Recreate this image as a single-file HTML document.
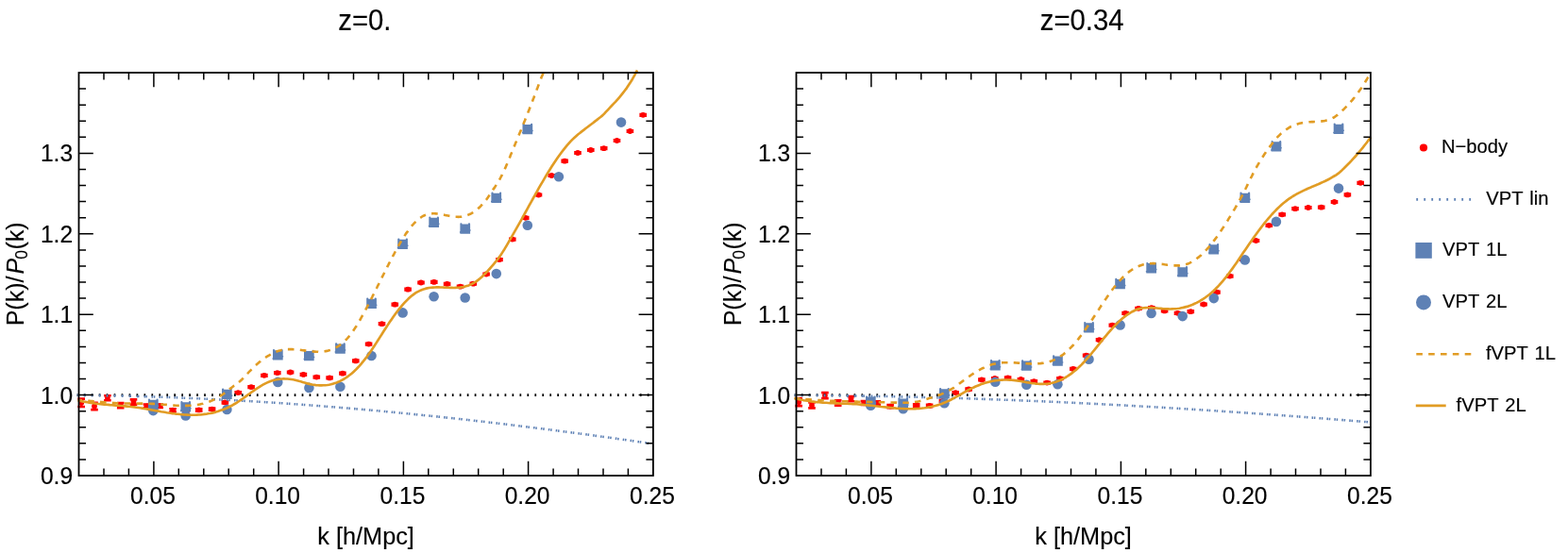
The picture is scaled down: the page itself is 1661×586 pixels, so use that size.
<!DOCTYPE html>
<html lang="en">
<head>
<meta charset="utf-8">
<title>P(k)/P0(k) comparison</title>
<style>
html,body{margin:0;padding:0;background:#fff;}
body{width:1661px;height:586px;overflow:hidden;}
svg{display:block;}
svg text{font-family:'Liberation Sans', sans-serif;fill:#000;stroke:#000;stroke-width:0.15px;}
</style>
</head>
<body>
<svg width="1661" height="586" viewBox="0 0 1661 586">
<rect width="1661" height="586" fill="#fff"/>
<g id="plot-z0">
<g fill="#FF0000" stroke="#FF0000">
<path d="M86.2 422.6 V431 M82.4 422.6 h7.6 M82.4 431 h7.6" stroke-width="2.6" fill="none"/>
<circle cx="86.2" cy="426.8" r="2.9" stroke="none"/>
<path d="M100 426.7 V434.1 M96.2 426.7 h7.6 M96.2 434.1 h7.6" stroke-width="2.6" fill="none"/>
<circle cx="100" cy="430.4" r="2.9" stroke="none"/>
<path d="M113.9 419.2 V424.2 M110.1 419.2 h7.6 M110.1 424.2 h7.6" stroke-width="2.6" fill="none"/>
<circle cx="113.9" cy="421.7" r="2.9" stroke="none"/>
<path d="M127.7 427.1 V432.3 M123.9 427.1 h7.6 M123.9 432.3 h7.6" stroke-width="2.6" fill="none"/>
<circle cx="127.7" cy="429.7" r="2.9" stroke="none"/>
<path d="M141.5 423.4 V428.6 M137.7 423.4 h7.6 M137.7 428.6 h7.6" stroke-width="2.6" fill="none"/>
<circle cx="141.5" cy="426" r="2.9" stroke="none"/>
<path d="M155.4 428.5 V432.3 M151.6 428.5 h7.6 M151.6 432.3 h7.6" stroke-width="2.6" fill="none"/>
<circle cx="155.4" cy="430.4" r="2.9" stroke="none"/>
<path d="M169.2 428.5 V431.9 M165.4 428.5 h7.6 M165.4 431.9 h7.6" stroke-width="2.6" fill="none"/>
<circle cx="169.2" cy="430.2" r="2.9" stroke="none"/>
<path d="M183.1 433.2 V436.2 M179.3 433.2 h7.6 M179.3 436.2 h7.6" stroke-width="2.6" fill="none"/>
<circle cx="183.1" cy="434.7" r="2.9" stroke="none"/>
<path d="M196.9 433.3 V435.9 M193.1 433.3 h7.6 M193.1 435.9 h7.6" stroke-width="2.6" fill="none"/>
<circle cx="196.9" cy="434.6" r="2.9" stroke="none"/>
<path d="M210.7 433.2 V435.6 M206.9 433.2 h7.6 M206.9 435.6 h7.6" stroke-width="2.6" fill="none"/>
<circle cx="210.7" cy="434.4" r="2.9" stroke="none"/>
<path d="M224.6 432.5 V434.7 M220.8 432.5 h7.6 M220.8 434.7 h7.6" stroke-width="2.6" fill="none"/>
<circle cx="224.6" cy="433.6" r="2.9" stroke="none"/>
<path d="M238.4 425.4 V427.4 M234.6 425.4 h7.6 M234.6 427.4 h7.6" stroke-width="2.6" fill="none"/>
<circle cx="238.4" cy="426.4" r="2.9" stroke="none"/>
<path d="M252.2 415.2 V417 M248.4 415.2 h7.6 M248.4 417 h7.6" stroke-width="2.6" fill="none"/>
<circle cx="252.2" cy="416.1" r="2.9" stroke="none"/>
<path d="M266.1 409.2 V411 M262.3 409.2 h7.6 M262.3 411 h7.6" stroke-width="2.6" fill="none"/>
<circle cx="266.1" cy="410.1" r="2.9" stroke="none"/>
<path d="M279.9 397 V398.6 M276.1 397 h7.6 M276.1 398.6 h7.6" stroke-width="2.6" fill="none"/>
<circle cx="279.9" cy="397.8" r="2.9" stroke="none"/>
<path d="M293.8 394.3 V395.9 M290 394.3 h7.6 M290 395.9 h7.6" stroke-width="2.6" fill="none"/>
<circle cx="293.8" cy="395.1" r="2.9" stroke="none"/>
<path d="M307.6 393.7 V395.3 M303.8 393.7 h7.6 M303.8 395.3 h7.6" stroke-width="2.6" fill="none"/>
<circle cx="307.6" cy="394.5" r="2.9" stroke="none"/>
<path d="M321.4 396.1 V397.7 M317.6 396.1 h7.6 M317.6 397.7 h7.6" stroke-width="2.6" fill="none"/>
<circle cx="321.4" cy="396.9" r="2.9" stroke="none"/>
<path d="M335.3 398.8 V400.4 M331.5 398.8 h7.6 M331.5 400.4 h7.6" stroke-width="2.6" fill="none"/>
<circle cx="335.3" cy="399.6" r="2.9" stroke="none"/>
<path d="M349.1 399.6 V401.2 M345.3 399.6 h7.6 M345.3 401.2 h7.6" stroke-width="2.6" fill="none"/>
<circle cx="349.1" cy="400.4" r="2.9" stroke="none"/>
<path d="M362.9 394.9 V396.5 M359.1 394.9 h7.6 M359.1 396.5 h7.6" stroke-width="2.6" fill="none"/>
<circle cx="362.9" cy="395.7" r="2.9" stroke="none"/>
<path d="M376.8 381.6 V383.2 M373 381.6 h7.6 M373 383.2 h7.6" stroke-width="2.6" fill="none"/>
<circle cx="376.8" cy="382.4" r="2.9" stroke="none"/>
<path d="M390.6 363.8 V365.4 M386.8 363.8 h7.6 M386.8 365.4 h7.6" stroke-width="2.6" fill="none"/>
<circle cx="390.6" cy="364.6" r="2.9" stroke="none"/>
<path d="M404.5 342.4 V344 M400.7 342.4 h7.6 M400.7 344 h7.6" stroke-width="2.6" fill="none"/>
<circle cx="404.5" cy="343.2" r="2.9" stroke="none"/>
<path d="M418.3 321.9 V323.5 M414.5 321.9 h7.6 M414.5 323.5 h7.6" stroke-width="2.6" fill="none"/>
<circle cx="418.3" cy="322.7" r="2.9" stroke="none"/>
<path d="M432.1 305.9 V307.5 M428.3 305.9 h7.6 M428.3 307.5 h7.6" stroke-width="2.6" fill="none"/>
<circle cx="432.1" cy="306.7" r="2.9" stroke="none"/>
<path d="M446 298.7 V300.3 M442.2 298.7 h7.6 M442.2 300.3 h7.6" stroke-width="2.6" fill="none"/>
<circle cx="446" cy="299.5" r="2.9" stroke="none"/>
<path d="M459.8 298.1 V299.7 M456 298.1 h7.6 M456 299.7 h7.6" stroke-width="2.6" fill="none"/>
<circle cx="459.8" cy="298.9" r="2.9" stroke="none"/>
<path d="M473.6 300.1 V301.7 M469.8 300.1 h7.6 M469.8 301.7 h7.6" stroke-width="2.6" fill="none"/>
<circle cx="473.6" cy="300.9" r="2.9" stroke="none"/>
<path d="M487.5 302.9 V304.5 M483.7 302.9 h7.6 M483.7 304.5 h7.6" stroke-width="2.6" fill="none"/>
<circle cx="487.5" cy="303.7" r="2.9" stroke="none"/>
<path d="M501.3 299.9 V301.5 M497.5 299.9 h7.6 M497.5 301.5 h7.6" stroke-width="2.6" fill="none"/>
<circle cx="501.3" cy="300.7" r="2.9" stroke="none"/>
<path d="M515.1 289.7 V291.3 M511.3 289.7 h7.6 M511.3 291.3 h7.6" stroke-width="2.6" fill="none"/>
<circle cx="515.1" cy="290.5" r="2.9" stroke="none"/>
<path d="M529 274.3 V275.9 M525.2 274.3 h7.6 M525.2 275.9 h7.6" stroke-width="2.6" fill="none"/>
<circle cx="529" cy="275.1" r="2.9" stroke="none"/>
<path d="M542.8 252.8 V254.4 M539 252.8 h7.6 M539 254.4 h7.6" stroke-width="2.6" fill="none"/>
<circle cx="542.8" cy="253.6" r="2.9" stroke="none"/>
<path d="M556.7 230 V231.6 M552.9 230 h7.6 M552.9 231.6 h7.6" stroke-width="2.6" fill="none"/>
<circle cx="556.7" cy="230.8" r="2.9" stroke="none"/>
<path d="M570.5 205.7 V207.3 M566.7 205.7 h7.6 M566.7 207.3 h7.6" stroke-width="2.6" fill="none"/>
<circle cx="570.5" cy="206.5" r="2.9" stroke="none"/>
<path d="M584.3 185.2 V186.8 M580.5 185.2 h7.6 M580.5 186.8 h7.6" stroke-width="2.6" fill="none"/>
<circle cx="584.3" cy="186" r="2.9" stroke="none"/>
<path d="M598.2 169.9 V171.5 M594.4 169.9 h7.6 M594.4 171.5 h7.6" stroke-width="2.6" fill="none"/>
<circle cx="598.2" cy="170.7" r="2.9" stroke="none"/>
<path d="M612 161.2 V162.8 M608.2 161.2 h7.6 M608.2 162.8 h7.6" stroke-width="2.6" fill="none"/>
<circle cx="612" cy="162" r="2.9" stroke="none"/>
<path d="M625.8 158.2 V159.8 M622 158.2 h7.6 M622 159.8 h7.6" stroke-width="2.6" fill="none"/>
<circle cx="625.8" cy="159" r="2.9" stroke="none"/>
<path d="M639.7 156.4 V158 M635.9 156.4 h7.6 M635.9 158 h7.6" stroke-width="2.6" fill="none"/>
<circle cx="639.7" cy="157.2" r="2.9" stroke="none"/>
<path d="M653.5 148.2 V149.8 M649.7 148.2 h7.6 M649.7 149.8 h7.6" stroke-width="2.6" fill="none"/>
<circle cx="653.5" cy="149" r="2.9" stroke="none"/>
<path d="M667.4 138.2 V139.8 M663.6 138.2 h7.6 M663.6 139.8 h7.6" stroke-width="2.6" fill="none"/>
<circle cx="667.4" cy="139" r="2.9" stroke="none"/>
<path d="M681.2 121 V122.6 M677.4 121 h7.6 M677.4 122.6 h7.6" stroke-width="2.6" fill="none"/>
<circle cx="681.2" cy="121.8" r="2.9" stroke="none"/>
</g>
<path d="M81.7 418.6 H691.9" fill="none" stroke="#000" stroke-width="2.9" stroke-dasharray="1.7 6.26" stroke-dashoffset="0.85"/>
<path d="M81.70 418.82L82.47 418.82M88.88 418.89L90.43 418.91M96.84 418.99L98.39 419.01M104.80 419.10L106.35 419.13M112.76 419.24L114.31 419.26M120.72 419.39L122.27 419.42M128.68 419.56L130.23 419.59M136.64 419.75L138.19 419.79M144.59 419.95L146.14 419.99M152.55 420.18L154.10 420.22M160.51 420.42L162.06 420.47M168.46 420.68L170.01 420.73M176.42 420.95L177.97 421.01M184.37 421.24L185.92 421.30M192.33 421.55L193.88 421.62M200.28 421.88L201.83 421.95M208.23 422.23L209.78 422.29M216.18 422.59L217.73 422.66M224.14 422.96L225.68 423.04M232.09 423.36L233.63 423.44M240.04 423.77L241.58 423.85M247.98 424.19L249.53 424.28M255.93 424.64L257.48 424.72M263.88 425.09L265.43 425.19M271.82 425.57L273.37 425.66M279.77 426.06L281.32 426.16M287.71 426.56L289.26 426.66M295.66 427.08L297.20 427.19M303.60 427.62L305.14 427.73M311.54 428.17L313.08 428.28M319.48 428.74L321.02 428.85M327.42 429.32L328.96 429.44M335.35 429.92L336.90 430.04M343.29 430.53L344.84 430.65M351.23 431.16L352.77 431.28M359.16 431.80L360.71 431.92M367.09 432.45L368.64 432.58M375.03 433.12L376.57 433.25M382.96 433.80L384.50 433.94M390.89 434.50L392.43 434.64M398.81 435.21L400.36 435.35M406.74 435.94L408.28 436.08M414.67 436.68L416.21 436.82M422.59 437.43L424.13 437.58M430.51 438.20L432.06 438.35M438.44 438.98L439.98 439.13M446.36 439.77L447.90 439.92M454.27 440.57L455.82 440.73M462.19 441.39L463.73 441.55M470.11 442.22L471.65 442.39M478.02 443.07L479.57 443.23M485.94 443.93L487.48 444.09M493.85 444.79L495.39 444.97M501.76 445.68L503.30 445.85M509.67 446.57L511.21 446.75M517.58 447.48L519.12 447.65M525.49 448.39L527.03 448.57M533.39 449.32L534.93 449.51M541.30 450.27L542.83 450.45M549.20 451.22L550.74 451.41M557.10 452.18L558.64 452.37M565.00 453.16L566.54 453.35M572.90 454.15L574.44 454.34M580.80 455.15L582.33 455.34M588.69 456.16L590.23 456.35M596.59 457.18L598.12 457.38M604.48 458.21L606.01 458.41M612.37 459.25L613.91 459.45M620.26 460.30L621.80 460.51M628.15 461.37L629.68 461.57M636.04 462.44L637.57 462.65M643.92 463.52L645.46 463.74M651.81 464.62L653.34 464.83M659.69 465.72L661.22 465.94M667.57 466.84L669.11 467.05M675.45 467.96L676.99 468.18M683.33 469.09L684.86 469.31" fill="none" stroke="#5E81B5" stroke-width="2.55"/>
<path d="M81.70 418.82L82.47 418.82M88.88 418.89L90.43 418.91M96.84 418.99L98.39 419.01M104.80 419.10L106.35 419.13M112.76 419.24L114.31 419.26M120.72 419.39L122.27 419.42M129.03 419.57L130.58 419.60M137.47 419.77L139.02 419.81M145.91 419.99L147.46 420.03M154.34 420.23L155.89 420.28M162.78 420.49L164.33 420.54M170.76 420.75L172.31 420.81M178.72 421.03L180.27 421.09M186.67 421.33L188.22 421.39M194.62 421.65L196.17 421.71M202.58 421.98L204.13 422.05M210.53 422.33L212.08 422.40M218.48 422.69L220.03 422.77M226.43 423.08L227.98 423.15M234.38 423.47L235.93 423.55M242.33 423.89L243.88 423.97M250.28 424.32L251.83 424.41M258.23 424.77L259.78 424.86M266.17 425.23L267.72 425.32M274.12 425.71L275.67 425.80M282.06 426.20L283.61 426.30M290.01 426.71L291.55 426.81M297.95 427.24L299.50 427.34M305.89 427.78L307.44 427.89M313.83 428.34L315.38 428.45M321.77 428.91L323.32 429.02M329.71 429.49L331.26 429.61M337.65 430.09L339.19 430.21M345.58 430.71L347.13 430.83M353.52 431.34L355.06 431.46M361.45 431.98L363.00 432.11M369.39 432.64L370.93 432.77M377.32 433.32L378.86 433.45M385.25 434.01L386.79 434.14M393.18 434.71L394.72 434.84M401.10 435.42L402.65 435.56M409.03 436.15L410.57 436.30M416.96 436.89L418.50 437.04M424.88 437.65L426.42 437.80M432.80 438.42L434.35 438.57M440.72 439.20L442.27 439.36M448.64 440.00L450.19 440.16M456.56 440.81L458.10 440.97M464.48 441.63L466.02 441.79M472.40 442.47L473.94 442.63M480.31 443.31L481.85 443.48M488.22 444.18L489.76 444.34M496.14 445.05L497.68 445.22M504.05 445.93L505.59 446.11M511.96 446.83L513.50 447.01M519.86 447.74L521.40 447.92M527.77 448.66L529.31 448.84M535.68 449.59L537.21 449.78M543.58 450.54L545.12 450.73M551.48 451.50L553.02 451.68M559.38 452.46L560.92 452.65M567.28 453.44L568.82 453.64M575.18 454.43L576.72 454.63M583.08 455.44L584.61 455.63M590.97 456.45L592.51 456.65M598.87 457.47L600.40 457.67M606.76 458.51L608.30 458.71M614.65 459.55L616.19 459.76M622.54 460.61L624.08 460.82M630.43 461.68L631.96 461.88M638.31 462.75L639.85 462.96M646.20 463.84L647.74 464.05M654.08 464.94L655.62 465.15M661.97 466.04L663.50 466.26M669.85 467.16L671.38 467.38M677.73 468.29L679.26 468.51M685.61 469.42L687.14 469.64" fill="none" stroke="#5E81B5" stroke-width="2.55"/>
<path d="M157 423.8h10.7v10.3h-10.7zM156.9 423.7a1.1 1.1 0 1 1 2.2 0a1.1 1.1 0 1 1 -2.2 0zM165.5 423.7a1.1 1.1 0 1 1 2.2 0a1.1 1.1 0 1 1 -2.2 0zM166.3 430.3a1.0 1.0 0 1 1 2 0a1.0 1.0 0 1 1 -2 0zM156.4 432.5a1.0 1.0 0 1 1 2 0a1.0 1.0 0 1 1 -2 0z" fill="#5E81B5"/>
<path d="M191.4 426.3h10.7v10.3h-10.7zM191.3 426.2a1.1 1.1 0 1 1 2.2 0a1.1 1.1 0 1 1 -2.2 0zM199.9 426.2a1.1 1.1 0 1 1 2.2 0a1.1 1.1 0 1 1 -2.2 0zM200.7 432.8a1.0 1.0 0 1 1 2 0a1.0 1.0 0 1 1 -2 0zM190.8 435a1.0 1.0 0 1 1 2 0a1.0 1.0 0 1 1 -2 0z" fill="#5E81B5"/>
<path d="M235 412.7h10.7v10.3h-10.7zM235 412.6a1.1 1.1 0 1 1 2.2 0a1.1 1.1 0 1 1 -2.2 0zM243.6 412.6a1.1 1.1 0 1 1 2.2 0a1.1 1.1 0 1 1 -2.2 0zM244.4 419.2a1.0 1.0 0 1 1 2 0a1.0 1.0 0 1 1 -2 0zM234.5 421.4a1.0 1.0 0 1 1 2 0a1.0 1.0 0 1 1 -2 0z" fill="#5E81B5"/>
<path d="M289 371.3h10.7v10.3h-10.7zM288.9 371.2a1.1 1.1 0 1 1 2.2 0a1.1 1.1 0 1 1 -2.2 0zM297.5 371.2a1.1 1.1 0 1 1 2.2 0a1.1 1.1 0 1 1 -2.2 0zM298.3 377.8a1.0 1.0 0 1 1 2 0a1.0 1.0 0 1 1 -2 0zM288.4 380a1.0 1.0 0 1 1 2 0a1.0 1.0 0 1 1 -2 0z" fill="#5E81B5"/>
<path d="M322 371.9h10.7v10.3h-10.7zM322 371.8a1.1 1.1 0 1 1 2.2 0a1.1 1.1 0 1 1 -2.2 0zM330.6 371.8a1.1 1.1 0 1 1 2.2 0a1.1 1.1 0 1 1 -2.2 0zM331.4 378.4a1.0 1.0 0 1 1 2 0a1.0 1.0 0 1 1 -2 0zM321.5 380.6a1.0 1.0 0 1 1 2 0a1.0 1.0 0 1 1 -2 0z" fill="#5E81B5"/>
<path d="M355.1 364.4h10.7v10.3h-10.7zM355 364.3a1.1 1.1 0 1 1 2.2 0a1.1 1.1 0 1 1 -2.2 0zM363.6 364.3a1.1 1.1 0 1 1 2.2 0a1.1 1.1 0 1 1 -2.2 0zM364.4 370.9a1.0 1.0 0 1 1 2 0a1.0 1.0 0 1 1 -2 0zM354.5 373.1a1.0 1.0 0 1 1 2 0a1.0 1.0 0 1 1 -2 0z" fill="#5E81B5"/>
<path d="M388.2 316.7h10.7v10.3h-10.7zM388.1 316.6a1.1 1.1 0 1 1 2.2 0a1.1 1.1 0 1 1 -2.2 0zM396.7 316.6a1.1 1.1 0 1 1 2.2 0a1.1 1.1 0 1 1 -2.2 0zM397.5 323.2a1.0 1.0 0 1 1 2 0a1.0 1.0 0 1 1 -2 0zM387.6 325.4a1.0 1.0 0 1 1 2 0a1.0 1.0 0 1 1 -2 0z" fill="#5E81B5"/>
<path d="M421.2 253.7h10.7v10.3h-10.7zM421.2 253.6a1.1 1.1 0 1 1 2.2 0a1.1 1.1 0 1 1 -2.2 0zM429.8 253.6a1.1 1.1 0 1 1 2.2 0a1.1 1.1 0 1 1 -2.2 0zM430.6 260.2a1.0 1.0 0 1 1 2 0a1.0 1.0 0 1 1 -2 0zM420.7 262.4a1.0 1.0 0 1 1 2 0a1.0 1.0 0 1 1 -2 0z" fill="#5E81B5"/>
<path d="M454.3 230.8h10.7v10.3h-10.7zM454.2 230.7a1.1 1.1 0 1 1 2.2 0a1.1 1.1 0 1 1 -2.2 0zM462.8 230.7a1.1 1.1 0 1 1 2.2 0a1.1 1.1 0 1 1 -2.2 0zM463.6 237.3a1.0 1.0 0 1 1 2 0a1.0 1.0 0 1 1 -2 0zM453.7 239.5a1.0 1.0 0 1 1 2 0a1.0 1.0 0 1 1 -2 0z" fill="#5E81B5"/>
<path d="M487.4 237.4h10.7v10.3h-10.7zM487.3 237.3a1.1 1.1 0 1 1 2.2 0a1.1 1.1 0 1 1 -2.2 0zM495.9 237.3a1.1 1.1 0 1 1 2.2 0a1.1 1.1 0 1 1 -2.2 0zM496.7 243.9a1.0 1.0 0 1 1 2 0a1.0 1.0 0 1 1 -2 0zM486.8 246.1a1.0 1.0 0 1 1 2 0a1.0 1.0 0 1 1 -2 0z" fill="#5E81B5"/>
<path d="M520.4 204.8h10.7v10.3h-10.7zM520.4 204.7a1.1 1.1 0 1 1 2.2 0a1.1 1.1 0 1 1 -2.2 0zM529 204.7a1.1 1.1 0 1 1 2.2 0a1.1 1.1 0 1 1 -2.2 0zM529.8 211.3a1.0 1.0 0 1 1 2 0a1.0 1.0 0 1 1 -2 0zM519.9 213.5a1.0 1.0 0 1 1 2 0a1.0 1.0 0 1 1 -2 0z" fill="#5E81B5"/>
<path d="M553.5 131.9h10.7v10.3h-10.7zM553.4 131.8a1.1 1.1 0 1 1 2.2 0a1.1 1.1 0 1 1 -2.2 0zM562 131.8a1.1 1.1 0 1 1 2.2 0a1.1 1.1 0 1 1 -2.2 0zM562.8 138.4a1.0 1.0 0 1 1 2 0a1.0 1.0 0 1 1 -2 0zM552.9 140.6a1.0 1.0 0 1 1 2 0a1.0 1.0 0 1 1 -2 0z" fill="#5E81B5"/>
<circle cx="162.3" cy="435.1" r="5.3" fill="#5E81B5"/>
<circle cx="196.7" cy="440.5" r="5.3" fill="#5E81B5"/>
<circle cx="240.4" cy="434" r="5.3" fill="#5E81B5"/>
<circle cx="294.3" cy="404.9" r="5.3" fill="#5E81B5"/>
<circle cx="327.4" cy="410.9" r="5.3" fill="#5E81B5"/>
<circle cx="360.4" cy="409.7" r="5.3" fill="#5E81B5"/>
<circle cx="393.5" cy="377" r="5.3" fill="#5E81B5"/>
<circle cx="426.6" cy="331.4" r="5.3" fill="#5E81B5"/>
<circle cx="459.6" cy="314.3" r="5.3" fill="#5E81B5"/>
<circle cx="492.7" cy="315.5" r="5.3" fill="#5E81B5"/>
<circle cx="525.8" cy="290.1" r="5.3" fill="#5E81B5"/>
<circle cx="558.8" cy="238.7" r="5.3" fill="#5E81B5"/>
<circle cx="591.9" cy="187.2" r="5.3" fill="#5E81B5"/>
<circle cx="658" cy="129.6" r="5.3" fill="#5E81B5"/>
<path d="M82.6 424.0L84.1 424.1L85.6 424.1L86.9 424.2M93.2 424.7L94.7 424.8L96.1 425.0L97.6 425.1L99.1 425.2L99.7 425.3M106.0 425.8L107.5 426.0L109.0 426.1L110.5 426.2L112.0 426.4L112.6 426.4M118.8 426.9L120.3 427.0L121.8 427.1L123.3 427.2L124.8 427.2L125.4 427.3M131.7 427.5L133.2 427.5L134.7 427.5L136.2 427.5L137.7 427.6L138.3 427.6M144.6 427.6L146.1 427.6L147.6 427.6L149.1 427.6L150.6 427.6L151.2 427.7M157.5 427.8L159.0 427.8L160.5 427.9L162.0 427.9L163.5 428.0L164.0 428.0M170.3 428.5L171.8 428.6L173.3 428.7L174.8 428.8L176.3 428.9L176.9 429.0M183.2 429.5L184.7 429.6L186.2 429.7L187.7 429.8L189.2 429.8L189.8 429.8M196.0 429.9L197.5 429.9L199.0 429.9L200.5 429.8L202.0 429.7L202.6 429.7M208.9 429.0L210.4 428.7L211.8 428.4L213.3 428.1L214.8 427.8L215.3 427.6M221.3 425.7L222.7 425.2L224.1 424.6L225.5 424.0L226.8 423.4L227.4 423.1M232.9 420.0L234.1 419.2L235.4 418.4L236.6 417.5L237.8 416.6L238.2 416.3M243.0 412.6L244.2 411.6L245.4 410.7L246.6 409.8L247.8 408.9L248.2 408.7M253.0 405.0L254.2 404.0L255.3 403.0L256.4 402.0L257.5 400.9L257.8 400.6M262.0 396.1L263.0 395.0L264.0 393.9L265.1 392.8L266.1 391.8L266.5 391.4M271.0 387.0L272.1 386.0L273.3 385.0L274.4 384.1L275.6 383.1L276.0 382.7M281.1 379.0L282.3 378.2L283.6 377.3L284.9 376.6L286.2 375.8L286.7 375.5M292.4 372.8L293.8 372.3L295.2 371.8L296.6 371.4L298.1 371.0L298.7 370.9M304.9 370.1L306.4 370.1L307.9 370.1L309.4 370.1L310.9 370.2L311.5 370.2M317.8 370.8L319.3 371.0L320.8 371.2L322.3 371.4L323.8 371.6L324.3 371.7M330.6 372.4L332.1 372.5L333.6 372.6L335.1 372.7L336.6 372.7L337.2 372.8M343.5 372.4L345.0 372.1L346.4 371.9L347.9 371.5L349.3 371.1L349.9 370.9M355.7 368.5L357.0 367.7L358.3 366.9L359.5 366.1L360.7 365.2L361.2 364.9M365.9 360.7L367.0 359.6L368.0 358.5L369.0 357.4L369.9 356.2L370.3 355.7M374.1 350.7L374.9 349.4L375.7 348.2L376.5 346.9L377.4 345.7L377.7 345.2M380.9 339.8L381.7 338.5L382.4 337.2L383.1 335.9L383.9 334.5L384.2 334.0M387.2 328.5L387.9 327.1L388.6 325.8L389.2 324.5L389.9 323.2L390.2 322.6M393.0 317.1L393.7 315.8L394.4 314.5L395.0 313.1L395.7 311.8L395.9 311.4M398.7 305.8L399.4 304.5L400.0 303.2L400.7 301.8L401.4 300.5L401.6 300.0M404.4 294.5L405.0 293.2L405.7 291.8L406.4 290.5L407.1 289.2L407.3 288.8M410.1 283.2L410.7 281.9L411.4 280.6L412.1 279.2L412.8 277.9L413.0 277.5M415.9 272.0L416.6 270.7L417.3 269.4L418.0 268.0L418.7 266.7L418.9 266.3M421.9 260.9L422.6 259.6L423.4 258.3L424.1 257.0L424.9 255.7L425.1 255.3M428.4 250.1L429.2 248.9L430.0 247.6L430.9 246.4L431.8 245.2L432.1 244.7M435.9 239.7L436.9 238.6L437.9 237.5L438.9 236.4L440.0 235.3L440.4 234.9M445.2 230.8L446.4 230.0L447.7 229.2L449.1 228.5L450.4 227.9L451.0 227.7M457.1 226.4L458.6 226.3L460.1 226.3L461.6 226.4L463.1 226.5L463.7 226.6M469.9 227.6L471.4 227.9L472.9 228.2L474.4 228.5L475.8 228.8L476.4 228.9M482.6 229.8L484.1 229.8L485.6 229.9L487.1 229.8L488.6 229.7L489.2 229.6M495.3 228.0L496.7 227.4L498.1 226.8L499.4 226.1L500.7 225.3L501.2 225.0M506.2 221.2L507.3 220.2L508.4 219.2L509.5 218.1L510.5 217.0L510.9 216.6M514.9 211.9L515.8 210.7L516.7 209.4L517.5 208.2L518.4 207.0L518.7 206.6M522.1 201.4L522.9 200.1L523.8 198.9L524.6 197.6L525.4 196.4L525.7 195.9M529.0 190.6L529.7 189.3L530.4 188.0L531.1 186.7L531.8 185.4L532.0 184.9M534.7 179.2L535.3 177.9L535.9 176.5L536.5 175.1L537.1 173.7L537.3 173.2M539.7 167.4L540.3 166.0L540.8 164.6L541.4 163.2L542.0 161.8L542.2 161.3M544.6 155.5L545.2 154.1L545.7 152.7L546.3 151.3L546.9 149.9L547.1 149.4M549.5 143.5L550.1 142.1L550.6 140.8L551.2 139.4L551.8 138.0L552.0 137.4M554.4 131.6L554.9 130.2L555.5 128.8L556.1 127.4L556.6 126.0L556.8 125.5M559.2 119.6L559.7 118.2L560.3 116.9L560.8 115.5L561.4 114.1L561.6 113.5M563.9 107.6L564.4 106.2L564.9 104.8L565.5 103.4L566.0 102.0L566.2 101.5M568.4 95.6L568.9 94.2L569.5 92.8L570.0 91.4L570.5 90.0L570.7 89.4M573.0 83.5L573.5 82.1L574.1 80.7L574.7 79.4L575.3 78.0L575.5 77.4" fill="none" stroke="#E19C24" stroke-width="2.6"/>
<path d="M82.6 424.2 L84.6 424.7 L86.6 425.1 L88.6 425.6 L90.6 425.9 L92.6 426.3 L94.6 426.6 L96.6 427 L98.6 427.2 L100.6 427.5 L102.6 427.8 L104.6 428 L106.6 428.2 L108.6 428.4 L110.6 428.6 L112.6 428.8 L114.6 428.9 L116.6 429.1 L118.6 429.2 L120.6 429.4 L122.6 429.6 L124.6 429.7 L126.6 429.9 L128.6 430 L130.6 430.2 L132.6 430.4 L134.6 430.6 L136.6 430.8 L138.6 431 L140.6 431.2 L142.6 431.4 L144.6 431.7 L146.6 432 L148.6 432.3 L150.6 432.6 L152.6 433 L154.6 433.3 L156.6 433.6 L158.6 434 L160.6 434.4 L162.6 434.7 L164.6 435.1 L166.6 435.4 L168.6 435.8 L170.6 436.2 L172.6 436.5 L174.6 436.8 L176.6 437.2 L178.6 437.5 L180.6 437.8 L182.6 438.1 L184.6 438.3 L186.6 438.6 L188.6 438.8 L190.6 439 L192.6 439.2 L194.6 439.4 L196.6 439.5 L198.6 439.6 L200.6 439.7 L202.6 439.7 L204.6 439.7 L206.6 439.7 L208.6 439.6 L210.6 439.5 L212.6 439.4 L214.6 439.2 L216.6 438.9 L218.6 438.7 L220.6 438.3 L222.6 438 L224.6 437.6 L226.6 437.1 L228.6 436.6 L230.6 436 L232.6 435.3 L234.6 434.6 L236.6 433.9 L238.6 433.1 L240.6 432.2 L242.6 431.2 L244.6 430.2 L246.6 429.2 L248.6 428 L250.6 426.8 L252.6 425.5 L254.6 424.2 L256.6 422.8 L258.6 421.3 L260.6 419.9 L262.6 418.4 L264.6 417 L266.6 415.5 L268.6 414.1 L270.6 412.7 L272.6 411.4 L274.6 410.1 L276.6 408.8 L278.6 407.7 L280.6 406.6 L282.6 405.6 L284.6 404.7 L286.6 404 L288.6 403.3 L290.6 402.7 L292.6 402.3 L294.6 401.9 L296.6 401.7 L298.6 401.5 L300.6 401.4 L302.6 401.5 L304.6 401.5 L306.6 401.7 L308.6 402 L310.6 402.3 L312.6 402.7 L314.6 403.2 L316.6 403.8 L318.6 404.3 L320.6 404.9 L322.6 405.5 L324.6 406.1 L326.6 406.6 L328.6 407.1 L330.6 407.5 L332.6 407.8 L334.6 408.1 L336.6 408.3 L338.6 408.4 L340.6 408.4 L342.6 408.3 L344.6 408.2 L346.6 408 L348.6 407.7 L350.6 407.3 L352.6 406.7 L354.6 406.1 L356.6 405.4 L358.6 404.6 L360.6 403.7 L362.6 402.6 L364.6 401.5 L366.6 400.2 L368.6 398.8 L370.6 397.3 L372.6 395.7 L374.6 393.9 L376.6 392.1 L378.6 390 L380.6 387.9 L382.6 385.6 L384.6 383.2 L386.6 380.7 L388.6 378.1 L390.6 375.3 L392.6 372.4 L394.6 369.5 L396.6 366.5 L398.6 363.4 L400.6 360.3 L402.6 357.1 L404.6 354 L406.6 350.8 L408.6 347.7 L410.6 344.6 L412.6 341.6 L414.6 338.7 L416.6 335.8 L418.6 333 L420.6 330.3 L422.6 327.7 L424.6 325.3 L426.6 322.9 L428.6 320.7 L430.6 318.6 L432.6 316.6 L434.6 314.8 L436.6 313.1 L438.6 311.6 L440.6 310.2 L442.6 309.1 L444.6 308.1 L446.6 307.2 L448.6 306.5 L450.6 305.9 L452.6 305.4 L454.6 305 L456.6 304.8 L458.6 304.6 L460.6 304.5 L462.6 304.4 L464.6 304.4 L466.6 304.5 L468.6 304.5 L470.6 304.6 L472.6 304.7 L474.6 304.8 L476.6 304.9 L478.6 304.9 L480.6 305 L482.6 304.9 L484.6 304.8 L486.6 304.7 L488.6 304.4 L490.6 304.1 L492.6 303.6 L494.6 303 L496.6 302.4 L498.6 301.5 L500.6 300.5 L502.6 299.4 L504.6 298.1 L506.6 296.6 L508.6 295 L510.6 293.2 L512.6 291.3 L514.6 289.3 L516.6 287.2 L518.6 285 L520.6 282.7 L522.6 280.3 L524.6 277.9 L526.6 275.5 L528.6 272.8 L530.6 270 L532.6 266.9 L534.6 263.7 L536.6 260.3 L538.6 256.8 L540.6 253.4 L542.6 249.9 L544.6 246.4 L546.6 242.9 L548.6 239.4 L550.6 235.9 L552.6 232.3 L554.6 228.7 L556.6 225 L558.6 221.4 L560.6 217.7 L562.6 214.1 L564.6 210.5 L566.6 206.8 L568.6 203.3 L570.6 199.7 L572.6 196.2 L574.6 192.8 L576.6 189.4 L578.6 186 L580.6 182.7 L582.6 179.5 L584.6 176.3 L586.6 173.2 L588.6 170.2 L590.6 167.3 L592.6 164.5 L594.6 161.7 L596.6 159.1 L598.6 156.6 L600.6 154.2 L602.6 151.9 L604.6 149.7 L606.6 147.6 L608.6 145.7 L610.6 143.9 L612.2 142.5 L614.2 141 L616.2 139.4 L618.2 137.9 L620.2 136.3 L622.2 134.8 L624.2 133.2 L626.2 131.7 L628.2 130.2 L630.2 128.6 L632.2 127.1 L634.2 125.5 L636.2 124 L638.2 122.4 L640 120.6 L642 118.4 L644 116.3 L646 114.2 L648 112 L650 109.9 L652 107.8 L654 105.6 L656 103.3 L658 100.9 L660 98.4 L662 95.8 L664 93.1 L666 90.1 L668 87 L670 83.7 L672 80.2 L674 76.4 L675 74.4" fill="none" stroke="#E19C24" stroke-width="2.65" stroke-linejoin="round"/>
<rect x="83.5" y="77" width="608.4" height="427" fill="none" stroke="#000" stroke-width="1.8"/>
<path d="M110 504 v-7.5 M110 77 v7.5 M136.4 504 v-7.5 M136.4 77 v7.5 M162.9 504 v-15.3 M162.9 77 v15.3 M189.3 504 v-7.5 M189.3 77 v7.5 M215.8 504 v-7.5 M215.8 77 v7.5 M242.2 504 v-7.5 M242.2 77 v7.5 M268.7 504 v-7.5 M268.7 77 v7.5 M295.1 504 v-15.3 M295.1 77 v15.3 M321.6 504 v-7.5 M321.6 77 v7.5 M348 504 v-7.5 M348 77 v7.5 M374.5 504 v-7.5 M374.5 77 v7.5 M400.9 504 v-7.5 M400.9 77 v7.5 M427.4 504 v-15.3 M427.4 77 v15.3 M453.8 504 v-7.5 M453.8 77 v7.5 M480.3 504 v-7.5 M480.3 77 v7.5 M506.7 504 v-7.5 M506.7 77 v7.5 M533.2 504 v-7.5 M533.2 77 v7.5 M559.6 504 v-15.3 M559.6 77 v15.3 M586.1 504 v-7.5 M586.1 77 v7.5 M612.5 504 v-7.5 M612.5 77 v7.5 M639 504 v-7.5 M639 77 v7.5 M665.4 504 v-7.5 M665.4 77 v7.5 M83.5 486.9 h7.5 M691.9 486.9 h-7.5 M83.5 469.8 h7.5 M691.9 469.8 h-7.5 M83.5 452.8 h7.5 M691.9 452.8 h-7.5 M83.5 435.7 h7.5 M691.9 435.7 h-7.5 M83.5 418.6 h15.3 M691.9 418.6 h-15.3 M83.5 401.5 h7.5 M691.9 401.5 h-7.5 M83.5 384.4 h7.5 M691.9 384.4 h-7.5 M83.5 367.4 h7.5 M691.9 367.4 h-7.5 M83.5 350.3 h7.5 M691.9 350.3 h-7.5 M83.5 333.2 h15.3 M691.9 333.2 h-15.3 M83.5 316.1 h7.5 M691.9 316.1 h-7.5 M83.5 299 h7.5 M691.9 299 h-7.5 M83.5 282 h7.5 M691.9 282 h-7.5 M83.5 264.9 h7.5 M691.9 264.9 h-7.5 M83.5 247.8 h15.3 M691.9 247.8 h-15.3 M83.5 230.7 h7.5 M691.9 230.7 h-7.5 M83.5 213.6 h7.5 M691.9 213.6 h-7.5 M83.5 196.6 h7.5 M691.9 196.6 h-7.5 M83.5 179.5 h7.5 M691.9 179.5 h-7.5 M83.5 162.4 h15.3 M691.9 162.4 h-15.3 M83.5 145.3 h7.5 M691.9 145.3 h-7.5 M83.5 128.2 h7.5 M691.9 128.2 h-7.5 M83.5 111.2 h7.5 M691.9 111.2 h-7.5 M83.5 94.1 h7.5 M691.9 94.1 h-7.5" fill="none" stroke="#000" stroke-width="1.5"/>
<text transform="translate(161.9 533.6) scale(1 1.04)" text-anchor="middle" font-size="24.6">0.05</text>
<text transform="translate(294.1 533.6) scale(1 1.04)" text-anchor="middle" font-size="24.6">0.10</text>
<text transform="translate(426.4 533.6) scale(1 1.04)" text-anchor="middle" font-size="24.6">0.15</text>
<text transform="translate(558.6 533.6) scale(1 1.04)" text-anchor="middle" font-size="24.6">0.20</text>
<text transform="translate(690.9 533.6) scale(1 1.04)" text-anchor="middle" font-size="24.6">0.25</text>
<text transform="translate(77.1 513) scale(1 1.04)" text-anchor="end" font-size="24.6">0.9</text>
<text transform="translate(77.1 427.6) scale(1 1.04)" text-anchor="end" font-size="24.6">1.0</text>
<text transform="translate(77.1 342.2) scale(1 1.04)" text-anchor="end" font-size="24.6">1.1</text>
<text transform="translate(77.1 256.8) scale(1 1.04)" text-anchor="end" font-size="24.6">1.2</text>
<text transform="translate(77.1 171.4) scale(1 1.04)" text-anchor="end" font-size="24.6">1.3</text>
<text transform="translate(386.4 32.2) scale(1 1.06)" text-anchor="middle" font-size="29.3">z=0.</text>
<text x="387.6" y="576.6" text-anchor="middle" font-size="25.3">k [h/Mpc]</text>
<text transform="translate(24.7 290.4) rotate(-90) scale(1 1.04)" text-anchor="middle" font-size="25">P(k)/<tspan font-style="italic" dx="2">P</tspan><tspan font-size="17.5" dx="-0.9" dy="4.4">0</tspan><tspan dx="0.5" dy="-4.4">(k)</tspan></text>
</g>
<g id="plot-z034">
<g fill="#FF0000" stroke="#FF0000">
<path d="M846.2 422.1 V430.1 M842.4 422.1 h7.6 M842.4 430.1 h7.6" stroke-width="2.6" fill="none"/>
<circle cx="846.2" cy="426.1" r="2.9" stroke="none"/>
<path d="M860 426.4 V432.4 M856.2 426.4 h7.6 M856.2 432.4 h7.6" stroke-width="2.6" fill="none"/>
<circle cx="860" cy="429.4" r="2.9" stroke="none"/>
<path d="M873.9 416.1 V422.1 M870.1 416.1 h7.6 M870.1 422.1 h7.6" stroke-width="2.6" fill="none"/>
<circle cx="873.9" cy="419.1" r="2.9" stroke="none"/>
<path d="M887.7 424.4 V429.6 M883.9 424.4 h7.6 M883.9 429.6 h7.6" stroke-width="2.6" fill="none"/>
<circle cx="887.7" cy="427" r="2.9" stroke="none"/>
<path d="M901.5 420.1 V425.3 M897.7 420.1 h7.6 M897.7 425.3 h7.6" stroke-width="2.6" fill="none"/>
<circle cx="901.5" cy="422.7" r="2.9" stroke="none"/>
<path d="M915.4 425.1 V428.9 M911.6 425.1 h7.6 M911.6 428.9 h7.6" stroke-width="2.6" fill="none"/>
<circle cx="915.4" cy="427" r="2.9" stroke="none"/>
<path d="M929.2 425.3 V428.7 M925.4 425.3 h7.6 M925.4 428.7 h7.6" stroke-width="2.6" fill="none"/>
<circle cx="929.2" cy="427" r="2.9" stroke="none"/>
<path d="M943.1 429.1 V432.1 M939.3 429.1 h7.6 M939.3 432.1 h7.6" stroke-width="2.6" fill="none"/>
<circle cx="943.1" cy="430.6" r="2.9" stroke="none"/>
<path d="M956.9 429.1 V431.7 M953.1 429.1 h7.6 M953.1 431.7 h7.6" stroke-width="2.6" fill="none"/>
<circle cx="956.9" cy="430.4" r="2.9" stroke="none"/>
<path d="M970.7 428.2 V430.6 M966.9 428.2 h7.6 M966.9 430.6 h7.6" stroke-width="2.6" fill="none"/>
<circle cx="970.7" cy="429.4" r="2.9" stroke="none"/>
<path d="M984.6 428.9 V431.1 M980.8 428.9 h7.6 M980.8 431.1 h7.6" stroke-width="2.6" fill="none"/>
<circle cx="984.6" cy="430" r="2.9" stroke="none"/>
<path d="M998.4 424 V426 M994.6 424 h7.6 M994.6 426 h7.6" stroke-width="2.6" fill="none"/>
<circle cx="998.4" cy="425" r="2.9" stroke="none"/>
<path d="M1012.2 415.2 V417 M1008.4 415.2 h7.6 M1008.4 417 h7.6" stroke-width="2.6" fill="none"/>
<circle cx="1012.2" cy="416.1" r="2.9" stroke="none"/>
<path d="M1026.1 411.6 V413.4 M1022.3 411.6 h7.6 M1022.3 413.4 h7.6" stroke-width="2.6" fill="none"/>
<circle cx="1026.1" cy="412.5" r="2.9" stroke="none"/>
<path d="M1039.9 401.6 V403.2 M1036.1 401.6 h7.6 M1036.1 403.2 h7.6" stroke-width="2.6" fill="none"/>
<circle cx="1039.9" cy="402.4" r="2.9" stroke="none"/>
<path d="M1053.8 400.2 V401.8 M1050 400.2 h7.6 M1050 401.8 h7.6" stroke-width="2.6" fill="none"/>
<circle cx="1053.8" cy="401" r="2.9" stroke="none"/>
<path d="M1067.6 399.5 V401.1 M1063.8 399.5 h7.6 M1063.8 401.1 h7.6" stroke-width="2.6" fill="none"/>
<circle cx="1067.6" cy="400.3" r="2.9" stroke="none"/>
<path d="M1081.4 401.2 V402.8 M1077.6 401.2 h7.6 M1077.6 402.8 h7.6" stroke-width="2.6" fill="none"/>
<circle cx="1081.4" cy="402" r="2.9" stroke="none"/>
<path d="M1095.3 403.4 V405 M1091.5 403.4 h7.6 M1091.5 405 h7.6" stroke-width="2.6" fill="none"/>
<circle cx="1095.3" cy="404.2" r="2.9" stroke="none"/>
<path d="M1109.1 404.8 V406.4 M1105.3 404.8 h7.6 M1105.3 406.4 h7.6" stroke-width="2.6" fill="none"/>
<circle cx="1109.1" cy="405.6" r="2.9" stroke="none"/>
<path d="M1122.9 400.4 V402 M1119.1 400.4 h7.6 M1119.1 402 h7.6" stroke-width="2.6" fill="none"/>
<circle cx="1122.9" cy="401.2" r="2.9" stroke="none"/>
<path d="M1136.8 390.1 V391.7 M1133 390.1 h7.6 M1133 391.7 h7.6" stroke-width="2.6" fill="none"/>
<circle cx="1136.8" cy="390.9" r="2.9" stroke="none"/>
<path d="M1150.6 375.9 V377.5 M1146.8 375.9 h7.6 M1146.8 377.5 h7.6" stroke-width="2.6" fill="none"/>
<circle cx="1150.6" cy="376.7" r="2.9" stroke="none"/>
<path d="M1164.5 359.4 V361 M1160.7 359.4 h7.6 M1160.7 361 h7.6" stroke-width="2.6" fill="none"/>
<circle cx="1164.5" cy="360.2" r="2.9" stroke="none"/>
<path d="M1178.3 343.8 V345.4 M1174.5 343.8 h7.6 M1174.5 345.4 h7.6" stroke-width="2.6" fill="none"/>
<circle cx="1178.3" cy="344.6" r="2.9" stroke="none"/>
<path d="M1192.1 331.1 V332.7 M1188.3 331.1 h7.6 M1188.3 332.7 h7.6" stroke-width="2.6" fill="none"/>
<circle cx="1192.1" cy="331.9" r="2.9" stroke="none"/>
<path d="M1206 326 V327.6 M1202.2 326 h7.6 M1202.2 327.6 h7.6" stroke-width="2.6" fill="none"/>
<circle cx="1206" cy="326.8" r="2.9" stroke="none"/>
<path d="M1219.8 325.4 V327 M1216 325.4 h7.6 M1216 327 h7.6" stroke-width="2.6" fill="none"/>
<circle cx="1219.8" cy="326.2" r="2.9" stroke="none"/>
<path d="M1233.6 328.6 V330.2 M1229.8 328.6 h7.6 M1229.8 330.2 h7.6" stroke-width="2.6" fill="none"/>
<circle cx="1233.6" cy="329.4" r="2.9" stroke="none"/>
<path d="M1247.5 331 V332.6 M1243.7 331 h7.6 M1243.7 332.6 h7.6" stroke-width="2.6" fill="none"/>
<circle cx="1247.5" cy="331.8" r="2.9" stroke="none"/>
<path d="M1261.3 329.4 V331 M1257.5 329.4 h7.6 M1257.5 331 h7.6" stroke-width="2.6" fill="none"/>
<circle cx="1261.3" cy="330.2" r="2.9" stroke="none"/>
<path d="M1275.1 321.7 V323.3 M1271.3 321.7 h7.6 M1271.3 323.3 h7.6" stroke-width="2.6" fill="none"/>
<circle cx="1275.1" cy="322.5" r="2.9" stroke="none"/>
<path d="M1289 308.9 V310.5 M1285.2 308.9 h7.6 M1285.2 310.5 h7.6" stroke-width="2.6" fill="none"/>
<circle cx="1289" cy="309.7" r="2.9" stroke="none"/>
<path d="M1302.8 291.8 V293.4 M1299 291.8 h7.6 M1299 293.4 h7.6" stroke-width="2.6" fill="none"/>
<circle cx="1302.8" cy="292.6" r="2.9" stroke="none"/>
<path d="M1316.7 274.2 V275.8 M1312.9 274.2 h7.6 M1312.9 275.8 h7.6" stroke-width="2.6" fill="none"/>
<circle cx="1316.7" cy="275" r="2.9" stroke="none"/>
<path d="M1330.5 254.2 V255.8 M1326.7 254.2 h7.6 M1326.7 255.8 h7.6" stroke-width="2.6" fill="none"/>
<circle cx="1330.5" cy="255" r="2.9" stroke="none"/>
<path d="M1344.3 238 V239.6 M1340.5 238 h7.6 M1340.5 239.6 h7.6" stroke-width="2.6" fill="none"/>
<circle cx="1344.3" cy="238.8" r="2.9" stroke="none"/>
<path d="M1358.2 226.5 V228.1 M1354.4 226.5 h7.6 M1354.4 228.1 h7.6" stroke-width="2.6" fill="none"/>
<circle cx="1358.2" cy="227.3" r="2.9" stroke="none"/>
<path d="M1372 220.4 V222 M1368.2 220.4 h7.6 M1368.2 222 h7.6" stroke-width="2.6" fill="none"/>
<circle cx="1372" cy="221.2" r="2.9" stroke="none"/>
<path d="M1385.8 219.2 V220.8 M1382 219.2 h7.6 M1382 220.8 h7.6" stroke-width="2.6" fill="none"/>
<circle cx="1385.8" cy="220" r="2.9" stroke="none"/>
<path d="M1399.7 218.9 V220.5 M1395.9 218.9 h7.6 M1395.9 220.5 h7.6" stroke-width="2.6" fill="none"/>
<circle cx="1399.7" cy="219.7" r="2.9" stroke="none"/>
<path d="M1413.5 213.2 V214.8 M1409.7 213.2 h7.6 M1409.7 214.8 h7.6" stroke-width="2.6" fill="none"/>
<circle cx="1413.5" cy="214" r="2.9" stroke="none"/>
<path d="M1427.4 205.6 V207.2 M1423.6 205.6 h7.6 M1423.6 207.2 h7.6" stroke-width="2.6" fill="none"/>
<circle cx="1427.4" cy="206.4" r="2.9" stroke="none"/>
<path d="M1441.2 193 V194.6 M1437.4 193 h7.6 M1437.4 194.6 h7.6" stroke-width="2.6" fill="none"/>
<circle cx="1441.2" cy="193.8" r="2.9" stroke="none"/>
</g>
<path d="M841.7 418.6 H1451.9" fill="none" stroke="#000" stroke-width="2.9" stroke-dasharray="1.7 6.26" stroke-dashoffset="0.85"/>
<path d="M841.70 418.86L842.47 418.87M848.88 418.90L850.43 418.91M856.84 418.95L858.39 418.96M864.80 419.01L866.35 419.02M872.76 419.08L874.31 419.10M880.72 419.16L882.27 419.18M888.68 419.25L890.23 419.27M896.64 419.35L898.19 419.37M904.60 419.47L906.15 419.49M912.56 419.59L914.11 419.61M920.52 419.72L922.07 419.74M928.48 419.86L930.03 419.89M936.44 420.01L937.99 420.04M944.40 420.17L945.95 420.20M952.35 420.34L953.90 420.37M960.31 420.52L961.86 420.55M968.27 420.70L969.82 420.74M976.23 420.90L977.78 420.94M984.18 421.11L985.73 421.15M992.14 421.32L993.69 421.37M1000.10 421.55L1001.65 421.59M1008.05 421.78L1009.60 421.83M1016.01 422.03L1017.56 422.08M1023.97 422.28L1025.52 422.33M1031.92 422.54L1033.47 422.59M1039.88 422.81L1041.43 422.87M1047.83 423.09L1049.38 423.15M1055.79 423.38L1057.34 423.44M1063.74 423.68L1065.29 423.74M1071.70 423.98L1073.25 424.04M1079.65 424.30L1081.20 424.36M1087.60 424.62L1089.15 424.68M1095.56 424.95L1097.11 425.01M1103.51 425.29L1105.06 425.35M1111.46 425.64L1113.01 425.70M1119.41 425.99L1120.96 426.06M1127.37 426.35L1128.91 426.43M1135.32 426.73L1136.87 426.80M1143.27 427.11L1144.82 427.18M1151.22 427.49L1152.77 427.57M1159.17 427.89L1160.72 427.97M1167.12 428.29L1168.67 428.37M1175.07 428.71L1176.62 428.79M1183.02 429.13L1184.56 429.21M1190.97 429.55L1192.51 429.64M1198.91 429.99L1200.46 430.07M1206.86 430.43L1208.41 430.52M1214.81 430.88L1216.36 430.97M1222.76 431.34L1224.30 431.43M1230.70 431.80L1232.25 431.89M1238.65 432.27L1240.20 432.37M1246.59 432.75L1248.14 432.85M1254.54 433.24L1256.09 433.33M1262.48 433.73L1264.03 433.83M1270.43 434.23L1271.97 434.33M1278.37 434.74L1279.92 434.84M1286.31 435.25L1287.86 435.35M1294.26 435.77L1295.80 435.88M1302.20 436.30L1303.75 436.41M1310.14 436.84L1311.69 436.94M1318.08 437.38L1319.63 437.48M1326.02 437.93L1327.57 438.03M1333.97 438.48L1335.51 438.59M1341.91 439.04L1343.45 439.15M1349.85 439.61L1351.39 439.72M1357.78 440.18L1359.33 440.30M1365.72 440.76L1367.27 440.88M1373.66 441.35L1375.21 441.47M1381.60 441.94L1383.15 442.06M1389.54 442.54L1391.08 442.66M1397.47 443.15L1399.02 443.27M1405.41 443.76L1406.96 443.88M1413.35 444.37L1414.89 444.50M1421.28 445.00L1422.83 445.12M1429.22 445.63L1430.76 445.75M1437.15 446.26L1438.70 446.38M1445.09 446.90L1446.63 447.03" fill="none" stroke="#5E81B5" stroke-width="2.55"/>
<path d="M841.70 418.86L842.47 418.87M848.88 418.90L850.43 418.91M856.84 418.95L858.39 418.96M864.80 419.01L866.35 419.02M872.76 419.08L874.31 419.10M880.72 419.16L882.27 419.18M889.03 419.26L890.58 419.28M897.47 419.37L899.02 419.39M905.91 419.48L907.46 419.51M914.35 419.61L915.90 419.64M922.80 419.76L924.35 419.78M930.78 419.90L932.33 419.93M938.74 420.05L940.29 420.08M946.70 420.22L948.24 420.25M954.65 420.39L956.20 420.42M962.61 420.57L964.16 420.61M970.57 420.76L972.12 420.80M978.53 420.96L980.08 421.00M986.48 421.17L988.03 421.21M994.44 421.39L995.99 421.43M1002.40 421.62L1003.95 421.66M1010.35 421.85L1011.90 421.90M1018.31 422.10L1019.86 422.15M1026.27 422.36L1027.82 422.41M1034.22 422.62L1035.77 422.67M1042.18 422.89L1043.73 422.95M1050.13 423.17L1051.68 423.23M1058.09 423.46L1059.64 423.52M1066.04 423.76L1067.59 423.82M1073.99 424.07L1075.54 424.13M1081.95 424.39L1083.50 424.45M1089.90 424.71L1091.45 424.78M1097.86 425.05L1099.40 425.11M1105.81 425.39L1107.36 425.45M1113.76 425.74L1115.31 425.81M1121.71 426.10L1123.26 426.17M1129.66 426.46L1131.21 426.53M1137.61 426.84L1139.16 426.91M1145.57 427.22L1147.11 427.29M1153.52 427.61L1155.06 427.69M1161.47 428.01L1163.01 428.08M1169.42 428.41L1170.96 428.49M1177.36 428.83L1178.91 428.91M1185.31 429.25L1186.86 429.33M1193.26 429.68L1194.81 429.76M1201.21 430.11L1202.76 430.20M1209.16 430.56L1210.71 430.65M1217.10 431.01L1218.65 431.10M1225.05 431.47L1226.60 431.56M1233.00 431.94L1234.55 432.03M1240.94 432.41L1242.49 432.50M1248.89 432.89L1250.44 432.99M1256.83 433.38L1258.38 433.48M1264.78 433.88L1266.33 433.97M1272.72 434.38L1274.27 434.48M1280.67 434.89L1282.21 434.99M1288.61 435.40L1290.16 435.50M1296.55 435.93L1298.10 436.03M1304.49 436.46L1306.04 436.56M1312.44 436.99L1313.98 437.10M1320.38 437.54L1321.92 437.64M1328.32 438.09L1329.87 438.19M1336.26 438.64L1337.81 438.75M1344.20 439.21L1345.75 439.32M1352.14 439.78L1353.69 439.89M1360.08 440.35L1361.62 440.46M1368.02 440.93L1369.56 441.05M1375.96 441.52L1377.50 441.64M1383.89 442.12L1385.44 442.23M1391.83 442.72L1393.38 442.83M1399.77 443.32L1401.31 443.44M1407.70 443.94L1409.25 444.06M1415.64 444.55L1417.19 444.68M1423.58 445.18L1425.12 445.30M1431.51 445.81L1433.06 445.93M1439.44 446.44L1440.99 446.57M1447.38 447.09L1448.92 447.21" fill="none" stroke="#5E81B5" stroke-width="2.55"/>
<path d="M917 420.6h10.7v10.3h-10.7zM916.9 420.5a1.1 1.1 0 1 1 2.2 0a1.1 1.1 0 1 1 -2.2 0zM925.5 420.5a1.1 1.1 0 1 1 2.2 0a1.1 1.1 0 1 1 -2.2 0zM926.3 427.1a1.0 1.0 0 1 1 2 0a1.0 1.0 0 1 1 -2 0zM916.4 429.3a1.0 1.0 0 1 1 2 0a1.0 1.0 0 1 1 -2 0z" fill="#5E81B5"/>
<path d="M951.4 422.4h10.7v10.3h-10.7zM951.3 422.3a1.1 1.1 0 1 1 2.2 0a1.1 1.1 0 1 1 -2.2 0zM959.9 422.3a1.1 1.1 0 1 1 2.2 0a1.1 1.1 0 1 1 -2.2 0zM960.7 428.9a1.0 1.0 0 1 1 2 0a1.0 1.0 0 1 1 -2 0zM950.8 431.1a1.0 1.0 0 1 1 2 0a1.0 1.0 0 1 1 -2 0z" fill="#5E81B5"/>
<path d="M995 412.2h10.7v10.3h-10.7zM995 412.1a1.1 1.1 0 1 1 2.2 0a1.1 1.1 0 1 1 -2.2 0zM1003.6 412.1a1.1 1.1 0 1 1 2.2 0a1.1 1.1 0 1 1 -2.2 0zM1004.4 418.7a1.0 1.0 0 1 1 2 0a1.0 1.0 0 1 1 -2 0zM994.5 420.9a1.0 1.0 0 1 1 2 0a1.0 1.0 0 1 1 -2 0z" fill="#5E81B5"/>
<path d="M1049 382.2h10.7v10.3h-10.7zM1048.9 382.1a1.1 1.1 0 1 1 2.2 0a1.1 1.1 0 1 1 -2.2 0zM1057.5 382.1a1.1 1.1 0 1 1 2.2 0a1.1 1.1 0 1 1 -2.2 0zM1058.3 388.7a1.0 1.0 0 1 1 2 0a1.0 1.0 0 1 1 -2 0zM1048.4 390.9a1.0 1.0 0 1 1 2 0a1.0 1.0 0 1 1 -2 0z" fill="#5E81B5"/>
<path d="M1082 382.5h10.7v10.3h-10.7zM1082 382.4a1.1 1.1 0 1 1 2.2 0a1.1 1.1 0 1 1 -2.2 0zM1090.6 382.4a1.1 1.1 0 1 1 2.2 0a1.1 1.1 0 1 1 -2.2 0zM1091.4 389a1.0 1.0 0 1 1 2 0a1.0 1.0 0 1 1 -2 0zM1081.5 391.2a1.0 1.0 0 1 1 2 0a1.0 1.0 0 1 1 -2 0z" fill="#5E81B5"/>
<path d="M1115.1 377.4h10.7v10.3h-10.7zM1115 377.3a1.1 1.1 0 1 1 2.2 0a1.1 1.1 0 1 1 -2.2 0zM1123.6 377.3a1.1 1.1 0 1 1 2.2 0a1.1 1.1 0 1 1 -2.2 0zM1124.4 383.9a1.0 1.0 0 1 1 2 0a1.0 1.0 0 1 1 -2 0zM1114.5 386.1a1.0 1.0 0 1 1 2 0a1.0 1.0 0 1 1 -2 0z" fill="#5E81B5"/>
<path d="M1148.2 342.3h10.7v10.3h-10.7zM1148.1 342.2a1.1 1.1 0 1 1 2.2 0a1.1 1.1 0 1 1 -2.2 0zM1156.7 342.2a1.1 1.1 0 1 1 2.2 0a1.1 1.1 0 1 1 -2.2 0zM1157.5 348.8a1.0 1.0 0 1 1 2 0a1.0 1.0 0 1 1 -2 0zM1147.6 351a1.0 1.0 0 1 1 2 0a1.0 1.0 0 1 1 -2 0z" fill="#5E81B5"/>
<path d="M1181.2 296h10.7v10.3h-10.7zM1181.2 295.9a1.1 1.1 0 1 1 2.2 0a1.1 1.1 0 1 1 -2.2 0zM1189.8 295.9a1.1 1.1 0 1 1 2.2 0a1.1 1.1 0 1 1 -2.2 0zM1190.6 302.5a1.0 1.0 0 1 1 2 0a1.0 1.0 0 1 1 -2 0zM1180.7 304.7a1.0 1.0 0 1 1 2 0a1.0 1.0 0 1 1 -2 0z" fill="#5E81B5"/>
<path d="M1214.3 279.1h10.7v10.3h-10.7zM1214.2 279a1.1 1.1 0 1 1 2.2 0a1.1 1.1 0 1 1 -2.2 0zM1222.8 279a1.1 1.1 0 1 1 2.2 0a1.1 1.1 0 1 1 -2.2 0zM1223.6 285.6a1.0 1.0 0 1 1 2 0a1.0 1.0 0 1 1 -2 0zM1213.7 287.8a1.0 1.0 0 1 1 2 0a1.0 1.0 0 1 1 -2 0z" fill="#5E81B5"/>
<path d="M1247.4 283.3h10.7v10.3h-10.7zM1247.3 283.2a1.1 1.1 0 1 1 2.2 0a1.1 1.1 0 1 1 -2.2 0zM1255.9 283.2a1.1 1.1 0 1 1 2.2 0a1.1 1.1 0 1 1 -2.2 0zM1256.7 289.8a1.0 1.0 0 1 1 2 0a1.0 1.0 0 1 1 -2 0zM1246.8 292a1.0 1.0 0 1 1 2 0a1.0 1.0 0 1 1 -2 0z" fill="#5E81B5"/>
<path d="M1280.4 259.3h10.7v10.3h-10.7zM1280.4 259.2a1.1 1.1 0 1 1 2.2 0a1.1 1.1 0 1 1 -2.2 0zM1289 259.2a1.1 1.1 0 1 1 2.2 0a1.1 1.1 0 1 1 -2.2 0zM1289.8 265.8a1.0 1.0 0 1 1 2 0a1.0 1.0 0 1 1 -2 0zM1279.9 268a1.0 1.0 0 1 1 2 0a1.0 1.0 0 1 1 -2 0z" fill="#5E81B5"/>
<path d="M1313.5 204.7h10.7v10.3h-10.7zM1313.4 204.6a1.1 1.1 0 1 1 2.2 0a1.1 1.1 0 1 1 -2.2 0zM1322 204.6a1.1 1.1 0 1 1 2.2 0a1.1 1.1 0 1 1 -2.2 0zM1322.8 211.2a1.0 1.0 0 1 1 2 0a1.0 1.0 0 1 1 -2 0zM1312.9 213.4a1.0 1.0 0 1 1 2 0a1.0 1.0 0 1 1 -2 0z" fill="#5E81B5"/>
<path d="M1346.6 150.3h10.7v10.3h-10.7zM1346.5 150.2a1.1 1.1 0 1 1 2.2 0a1.1 1.1 0 1 1 -2.2 0zM1355.1 150.2a1.1 1.1 0 1 1 2.2 0a1.1 1.1 0 1 1 -2.2 0zM1355.9 156.8a1.0 1.0 0 1 1 2 0a1.0 1.0 0 1 1 -2 0zM1346 159a1.0 1.0 0 1 1 2 0a1.0 1.0 0 1 1 -2 0z" fill="#5E81B5"/>
<path d="M1412.7 131.7h10.7v10.3h-10.7zM1412.6 131.6a1.1 1.1 0 1 1 2.2 0a1.1 1.1 0 1 1 -2.2 0zM1421.2 131.6a1.1 1.1 0 1 1 2.2 0a1.1 1.1 0 1 1 -2.2 0zM1422 138.2a1.0 1.0 0 1 1 2 0a1.0 1.0 0 1 1 -2 0zM1412.1 140.4a1.0 1.0 0 1 1 2 0a1.0 1.0 0 1 1 -2 0z" fill="#5E81B5"/>
<circle cx="922.3" cy="429.7" r="5.3" fill="#5E81B5"/>
<circle cx="956.7" cy="433.3" r="5.3" fill="#5E81B5"/>
<circle cx="1000.4" cy="427.3" r="5.3" fill="#5E81B5"/>
<circle cx="1054.3" cy="404.8" r="5.3" fill="#5E81B5"/>
<circle cx="1087.4" cy="407.8" r="5.3" fill="#5E81B5"/>
<circle cx="1120.4" cy="407.2" r="5.3" fill="#5E81B5"/>
<circle cx="1153.5" cy="380.7" r="5.3" fill="#5E81B5"/>
<circle cx="1186.6" cy="344.4" r="5.3" fill="#5E81B5"/>
<circle cx="1219.6" cy="332" r="5.3" fill="#5E81B5"/>
<circle cx="1252.7" cy="335.1" r="5.3" fill="#5E81B5"/>
<circle cx="1285.8" cy="316.1" r="5.3" fill="#5E81B5"/>
<circle cx="1318.8" cy="275.4" r="5.3" fill="#5E81B5"/>
<circle cx="1351.9" cy="234.9" r="5.3" fill="#5E81B5"/>
<circle cx="1418" cy="199.6" r="5.3" fill="#5E81B5"/>
<path d="M841.5 422.0L843.0 422.1L844.5 422.3L846.0 422.4L847.1 422.5M853.3 423.1L854.8 423.2L856.3 423.3L857.8 423.4L859.3 423.5L859.9 423.6M866.2 424.0L867.7 424.1L869.2 424.2L870.7 424.3L872.2 424.3L872.8 424.4M879.1 424.7L880.6 424.8L882.1 424.8L883.6 424.9L885.1 424.9L885.7 425.0M892.0 425.2L893.5 425.2L895.0 425.3L896.5 425.3L898.0 425.4L898.6 425.4M904.9 425.6L906.4 425.6L907.9 425.6L909.4 425.7L910.9 425.7L911.5 425.7M917.8 425.9L919.3 425.9L920.8 425.9L922.3 426.0L923.8 426.0L924.4 426.0M930.7 426.2L932.2 426.2L933.7 426.2L935.2 426.3L936.7 426.3L937.3 426.3M943.5 426.5L945.0 426.5L946.5 426.6L948.0 426.6L949.5 426.6L950.1 426.7M956.3 426.8L957.8 426.8L959.3 426.8L960.8 426.7L962.3 426.7L962.8 426.7M969.0 426.1L970.5 425.8L972.0 425.6L973.5 425.3L974.9 424.9L975.4 424.8M981.4 423.0L982.8 422.6L984.3 422.1L985.7 421.6L987.1 421.2L987.6 421.0M993.5 419.0L995.0 418.5L996.4 418.0L997.8 417.4L999.1 416.9L999.6 416.7M1005.2 413.9L1006.5 413.2L1007.8 412.4L1009.1 411.6L1010.4 410.8L1010.8 410.5M1015.9 406.8L1017.1 405.9L1018.3 405.0L1019.5 404.1L1020.7 403.2L1021.1 402.9M1026.1 399.2L1027.4 398.4L1028.6 397.5L1029.9 396.7L1031.1 395.9L1031.6 395.6M1036.9 392.3L1038.2 391.6L1039.5 390.9L1040.9 390.2L1042.2 389.6L1042.7 389.3M1048.5 387.0L1049.9 386.5L1051.4 386.1L1052.8 385.7L1054.3 385.4L1054.8 385.3M1061.0 384.4L1062.5 384.3L1064.0 384.2L1065.5 384.2L1066.9 384.2L1067.5 384.2M1073.7 384.3L1075.2 384.4L1076.7 384.5L1078.2 384.6L1079.7 384.7L1080.2 384.8M1086.4 385.2L1087.9 385.3L1089.4 385.4L1090.9 385.4L1092.4 385.5L1093.0 385.5M1099.2 385.4L1100.7 385.2L1102.2 385.1L1103.7 384.9L1105.2 384.7L1105.6 384.6M1111.7 383.2L1113.1 382.7L1114.5 382.2L1115.9 381.6L1117.3 381.0L1117.7 380.8M1123.1 377.8L1124.4 376.9L1125.6 376.1L1126.8 375.2L1127.9 374.2L1128.3 373.9M1132.9 369.7L1134.0 368.7L1135.0 367.6L1136.1 366.5L1137.1 365.4L1137.4 365.0M1141.5 360.2L1142.4 359.1L1143.3 357.9L1144.2 356.7L1145.2 355.5L1145.5 355.1M1149.2 350.1L1150.0 348.8L1150.9 347.6L1151.7 346.4L1152.6 345.1L1152.9 344.7M1156.4 339.5L1157.2 338.3L1158.0 337.0L1158.8 335.8L1159.7 334.5L1160.0 334.1M1163.4 328.8L1164.2 327.6L1165.0 326.3L1165.8 325.1L1166.6 323.8L1166.9 323.4M1170.4 318.2L1171.2 316.9L1172.1 315.7L1172.9 314.5L1173.8 313.2L1174.1 312.8M1177.7 307.7L1178.6 306.5L1179.6 305.3L1180.5 304.1L1181.4 303.0L1181.7 302.6M1185.8 297.8L1186.8 296.7L1187.8 295.6L1188.8 294.5L1189.9 293.4L1190.3 293.1M1194.9 288.9L1196.0 288.0L1197.2 287.1L1198.5 286.2L1199.7 285.4L1200.1 285.1M1205.6 282.2L1207.0 281.7L1208.4 281.2L1209.9 280.7L1211.3 280.3L1211.8 280.2M1217.9 279.3L1219.4 279.2L1220.9 279.1L1222.4 279.1L1223.9 279.2L1224.4 279.2M1230.6 279.9L1232.0 280.0L1233.5 280.3L1235.0 280.5L1236.5 280.7L1237.1 280.7M1243.4 281.4L1244.9 281.4L1246.4 281.4L1247.9 281.4L1249.4 281.4L1250.0 281.3M1256.1 280.2L1257.6 279.7L1259.0 279.2L1260.3 278.6L1261.7 277.9L1262.2 277.6M1267.5 274.3L1268.7 273.3L1269.9 272.4L1271.0 271.4L1272.2 270.5L1272.6 270.0M1277.1 265.6L1278.1 264.5L1279.1 263.4L1280.1 262.3L1281.1 261.1L1281.5 260.7M1285.4 255.8L1286.3 254.6L1287.2 253.4L1288.1 252.2L1289.0 251.0L1289.3 250.5M1292.9 245.3L1293.8 244.1L1294.6 242.8L1295.4 241.6L1296.3 240.3L1296.6 239.8M1300.0 234.5L1300.8 233.2L1301.5 231.9L1302.3 230.6L1303.1 229.4L1303.4 228.9M1306.6 223.4L1307.4 222.2L1308.2 220.9L1308.9 219.6L1309.7 218.3L1310.0 217.7M1313.1 212.3L1313.8 210.9L1314.5 209.6L1315.2 208.3L1315.9 207.0L1316.2 206.4M1319.0 200.8L1319.7 199.5L1320.4 198.1L1321.0 196.8L1321.7 195.4L1321.9 194.9M1324.7 189.2L1325.4 187.9L1326.1 186.6L1326.8 185.2L1327.4 183.9L1327.7 183.4M1330.7 177.8L1331.4 176.5L1332.2 175.2L1332.9 173.9L1333.7 172.6L1334.0 172.1M1337.3 166.7L1338.1 165.5L1338.9 164.2L1339.7 163.0L1340.6 161.7L1340.9 161.2M1344.6 156.1L1345.5 154.9L1346.4 153.7L1347.3 152.5L1348.2 151.3L1348.6 150.8M1352.6 146.0L1353.6 144.9L1354.7 143.8L1355.7 142.8L1356.8 141.7L1357.3 141.3M1362.2 137.4L1363.5 136.6L1364.7 135.8L1366.0 135.0L1367.3 134.3L1367.9 134.1M1373.7 131.7L1375.1 131.2L1376.6 130.8L1378.0 130.5L1379.5 130.2L1380.1 130.1M1386.4 129.3L1387.9 129.2L1389.4 129.1L1390.9 129.1L1392.3 129.0L1392.9 129.0M1399.2 128.6L1400.7 128.4L1402.2 128.2L1403.7 127.9L1405.1 127.6L1405.7 127.5M1411.6 125.2L1412.9 124.5L1414.2 123.7L1415.4 122.8L1416.6 121.9L1417.0 121.5M1421.8 117.3L1422.9 116.3L1423.9 115.3L1425.0 114.2L1426.1 113.1L1426.5 112.7M1430.7 108.1L1431.7 106.9L1432.7 105.8L1433.6 104.6L1434.6 103.5L1435.0 103.0M1438.8 98.0L1439.6 96.8L1440.5 95.5L1441.4 94.3L1442.2 93.1L1442.5 92.6M1446.0 87.3L1446.7 86.0L1447.5 84.7L1448.3 83.4L1449.0 82.1L1449.3 81.6" fill="none" stroke="#E19C24" stroke-width="2.6"/>
<path d="M841.5 422 L843.5 422.5 L845.5 423 L847.5 423.4 L849.5 423.8 L851.5 424.2 L853.5 424.5 L855.5 424.8 L857.5 425.1 L859.5 425.4 L861.5 425.6 L863.5 425.9 L865.5 426.1 L867.5 426.3 L869.5 426.4 L871.5 426.6 L873.5 426.7 L875.5 426.8 L877.5 427 L879.5 427.1 L881.5 427.2 L883.5 427.3 L885.5 427.3 L887.5 427.4 L889.5 427.5 L891.5 427.6 L893.5 427.7 L895.5 427.7 L897.5 427.8 L899.5 427.9 L901.5 428 L903.5 428.1 L905.5 428.2 L907.5 428.3 L909.5 428.5 L911.5 428.6 L913.5 428.8 L915.5 429 L917.5 429.2 L919.5 429.4 L921.5 429.6 L923.5 429.8 L925.5 430 L927.5 430.3 L929.5 430.5 L931.5 430.7 L933.5 431 L935.5 431.2 L937.5 431.4 L939.5 431.6 L941.5 431.8 L943.5 432 L945.5 432.2 L947.5 432.4 L949.5 432.6 L951.5 432.7 L953.5 432.9 L955.5 433 L957.5 433.1 L959.5 433.2 L961.5 433.2 L963.5 433.2 L965.5 433.2 L967.5 433.2 L969.5 433.1 L971.5 433 L973.5 432.9 L975.5 432.7 L977.5 432.5 L979.5 432.3 L981.5 432 L983.5 431.6 L985.5 431.2 L987.5 430.8 L989.5 430.3 L991.5 429.8 L993.5 429.2 L995.5 428.6 L997.5 427.9 L999.5 427.1 L1001.5 426.3 L1003.5 425.4 L1005.5 424.5 L1007.5 423.5 L1009.5 422.4 L1011.5 421.3 L1013.5 420.2 L1015.5 419.1 L1017.5 418 L1019.5 416.9 L1021.5 415.7 L1023.5 414.6 L1025.5 413.5 L1027.5 412.5 L1029.5 411.4 L1031.5 410.5 L1033.5 409.5 L1035.5 408.7 L1037.5 407.9 L1039.5 407.1 L1041.5 406.4 L1043.5 405.8 L1045.5 405.2 L1047.5 404.7 L1049.5 404.2 L1051.5 403.8 L1053.5 403.4 L1055.5 403.1 L1057.5 402.9 L1059.5 402.7 L1061.5 402.6 L1063.5 402.5 L1065.5 402.5 L1067.5 402.5 L1069.5 402.6 L1071.5 402.7 L1073.5 402.9 L1075.5 403.1 L1077.5 403.4 L1079.5 403.7 L1081.5 404 L1083.5 404.4 L1085.5 404.7 L1087.5 405.1 L1089.5 405.4 L1091.5 405.8 L1093.5 406.1 L1095.5 406.3 L1097.5 406.6 L1099.5 406.7 L1101.5 406.9 L1103.5 406.9 L1105.5 406.9 L1107.5 406.8 L1109.5 406.7 L1111.5 406.4 L1113.5 406 L1115.5 405.5 L1117.5 405 L1119.5 404.3 L1121.5 403.5 L1123.5 402.7 L1125.5 401.7 L1127.5 400.6 L1129.5 399.5 L1131.5 398.2 L1133.5 396.8 L1135.5 395.4 L1137.5 393.8 L1139.5 392.2 L1141.5 390.4 L1143.5 388.5 L1145.5 386.6 L1147.5 384.5 L1149.5 382.4 L1151.5 380.1 L1153.5 377.8 L1155.5 375.5 L1157.5 373 L1159.5 370.6 L1161.5 368.1 L1163.5 365.6 L1165.5 363.2 L1167.5 360.7 L1169.5 358.2 L1171.5 355.8 L1173.5 353.4 L1175.5 351.1 L1177.5 348.8 L1179.5 346.7 L1181.5 344.6 L1183.5 342.5 L1185.5 340.6 L1187.5 338.8 L1189.5 337.1 L1191.5 335.4 L1193.5 333.9 L1195.5 332.6 L1197.5 331.3 L1199.5 330.2 L1201.5 329.2 L1203.5 328.3 L1205.5 327.6 L1207.5 327.1 L1209.5 326.6 L1211.5 326.3 L1213.5 326.1 L1215.5 326 L1217.5 326 L1219.5 326.1 L1221.5 326.2 L1223.5 326.3 L1225.5 326.5 L1227.5 326.7 L1229.5 326.9 L1231.5 327.1 L1233.5 327.2 L1235.5 327.4 L1237.5 327.4 L1239.5 327.5 L1241.5 327.4 L1243.5 327.3 L1245.5 327.2 L1247.5 327 L1249.5 326.7 L1251.5 326.3 L1253.5 325.9 L1255.5 325.4 L1257.5 324.9 L1259.5 324.2 L1261.5 323.5 L1263.5 322.7 L1265.5 321.8 L1267.5 320.9 L1269.5 319.8 L1271.5 318.7 L1273.5 317.5 L1275.5 316.2 L1277.5 314.7 L1279.5 313.2 L1281.5 311.7 L1283.5 310 L1285.5 308.2 L1287.5 306.3 L1289.5 304.3 L1291.5 302.2 L1293.5 299.9 L1295.5 297.6 L1297.5 295.2 L1299.5 292.6 L1301.5 290 L1303.5 287.3 L1305.5 284.6 L1307.5 281.8 L1309.5 278.9 L1311.5 276 L1313.5 273 L1315.5 270.1 L1317.5 267.1 L1319.5 264.2 L1321.5 261.2 L1323.5 258.3 L1325.5 255.4 L1327.5 252.5 L1329.5 249.7 L1331.5 246.9 L1333.5 244.2 L1335.5 241.6 L1337.5 239 L1339.5 236.4 L1341.5 234 L1343.5 231.6 L1345.5 229.3 L1347.5 227 L1349.5 224.9 L1351.5 222.8 L1353.5 220.8 L1355.5 218.9 L1357.5 217 L1359.5 215.3 L1361.5 213.7 L1363.5 212.1 L1365.5 210.7 L1367.5 209.3 L1369.5 208 L1371.5 206.8 L1373.5 205.7 L1375.5 204.6 L1377.5 203.6 L1379.5 202.6 L1381.5 201.6 L1383.5 200.7 L1385.5 199.8 L1387.5 199 L1389.5 198.1 L1391.5 197.3 L1393.5 196.4 L1395.5 195.6 L1397.5 194.7 L1399.5 193.8 L1401.5 192.9 L1403.5 192 L1405.5 191 L1407.5 190 L1409.5 188.9 L1411.5 187.7 L1413.5 186.5 L1415.5 185.3 L1417.5 183.9 L1419.5 182.2 L1421.5 180.4 L1423.5 178.5 L1425.5 176.5 L1427.5 174.5 L1429.5 172.5 L1431.5 170.4 L1433.5 168.2 L1435.5 166 L1437.5 163.7 L1439.5 161.4 L1441.5 159 L1443.5 156.6 L1445.5 154 L1447.5 151.5 L1449.5 148.9 L1451.5 146.2 L1452 145.5" fill="none" stroke="#E19C24" stroke-width="2.65" stroke-linejoin="round"/>
<rect x="843.5" y="77" width="608.4" height="427" fill="none" stroke="#000" stroke-width="1.8"/>
<path d="M870 504 v-7.5 M870 77 v7.5 M896.4 504 v-7.5 M896.4 77 v7.5 M922.9 504 v-15.3 M922.9 77 v15.3 M949.3 504 v-7.5 M949.3 77 v7.5 M975.8 504 v-7.5 M975.8 77 v7.5 M1002.2 504 v-7.5 M1002.2 77 v7.5 M1028.7 504 v-7.5 M1028.7 77 v7.5 M1055.1 504 v-15.3 M1055.1 77 v15.3 M1081.6 504 v-7.5 M1081.6 77 v7.5 M1108 504 v-7.5 M1108 77 v7.5 M1134.5 504 v-7.5 M1134.5 77 v7.5 M1160.9 504 v-7.5 M1160.9 77 v7.5 M1187.4 504 v-15.3 M1187.4 77 v15.3 M1213.8 504 v-7.5 M1213.8 77 v7.5 M1240.3 504 v-7.5 M1240.3 77 v7.5 M1266.7 504 v-7.5 M1266.7 77 v7.5 M1293.2 504 v-7.5 M1293.2 77 v7.5 M1319.6 504 v-15.3 M1319.6 77 v15.3 M1346.1 504 v-7.5 M1346.1 77 v7.5 M1372.5 504 v-7.5 M1372.5 77 v7.5 M1399 504 v-7.5 M1399 77 v7.5 M1425.4 504 v-7.5 M1425.4 77 v7.5 M843.5 486.9 h7.5 M1451.9 486.9 h-7.5 M843.5 469.8 h7.5 M1451.9 469.8 h-7.5 M843.5 452.8 h7.5 M1451.9 452.8 h-7.5 M843.5 435.7 h7.5 M1451.9 435.7 h-7.5 M843.5 418.6 h15.3 M1451.9 418.6 h-15.3 M843.5 401.5 h7.5 M1451.9 401.5 h-7.5 M843.5 384.4 h7.5 M1451.9 384.4 h-7.5 M843.5 367.4 h7.5 M1451.9 367.4 h-7.5 M843.5 350.3 h7.5 M1451.9 350.3 h-7.5 M843.5 333.2 h15.3 M1451.9 333.2 h-15.3 M843.5 316.1 h7.5 M1451.9 316.1 h-7.5 M843.5 299 h7.5 M1451.9 299 h-7.5 M843.5 282 h7.5 M1451.9 282 h-7.5 M843.5 264.9 h7.5 M1451.9 264.9 h-7.5 M843.5 247.8 h15.3 M1451.9 247.8 h-15.3 M843.5 230.7 h7.5 M1451.9 230.7 h-7.5 M843.5 213.6 h7.5 M1451.9 213.6 h-7.5 M843.5 196.6 h7.5 M1451.9 196.6 h-7.5 M843.5 179.5 h7.5 M1451.9 179.5 h-7.5 M843.5 162.4 h15.3 M1451.9 162.4 h-15.3 M843.5 145.3 h7.5 M1451.9 145.3 h-7.5 M843.5 128.2 h7.5 M1451.9 128.2 h-7.5 M843.5 111.2 h7.5 M1451.9 111.2 h-7.5 M843.5 94.1 h7.5 M1451.9 94.1 h-7.5" fill="none" stroke="#000" stroke-width="1.5"/>
<text transform="translate(921.9 533.6) scale(1 1.04)" text-anchor="middle" font-size="24.6">0.05</text>
<text transform="translate(1054.1 533.6) scale(1 1.04)" text-anchor="middle" font-size="24.6">0.10</text>
<text transform="translate(1186.4 533.6) scale(1 1.04)" text-anchor="middle" font-size="24.6">0.15</text>
<text transform="translate(1318.6 533.6) scale(1 1.04)" text-anchor="middle" font-size="24.6">0.20</text>
<text transform="translate(1450.9 533.6) scale(1 1.04)" text-anchor="middle" font-size="24.6">0.25</text>
<text transform="translate(837.1 513) scale(1 1.04)" text-anchor="end" font-size="24.6">0.9</text>
<text transform="translate(837.1 427.6) scale(1 1.04)" text-anchor="end" font-size="24.6">1.0</text>
<text transform="translate(837.1 342.2) scale(1 1.04)" text-anchor="end" font-size="24.6">1.1</text>
<text transform="translate(837.1 256.8) scale(1 1.04)" text-anchor="end" font-size="24.6">1.2</text>
<text transform="translate(837.1 171.4) scale(1 1.04)" text-anchor="end" font-size="24.6">1.3</text>
<text transform="translate(1146.2 32.2) scale(1 1.06)" text-anchor="middle" font-size="29.3">z=0.34</text>
<text x="1147.6" y="576.6" text-anchor="middle" font-size="25.3">k [h/Mpc]</text>
<text transform="translate(784.7 290.4) rotate(-90) scale(1 1.04)" text-anchor="middle" font-size="25">P(k)/<tspan font-style="italic" dx="2">P</tspan><tspan font-size="17.5" dx="-0.9" dy="4.4">0</tspan><tspan dx="0.5" dy="-4.4">(k)</tspan></text>
</g>
<g id="legend" word-spacing="1.5"><title>Legend: N-body, VPT lin, VPT 1L, VPT 2L, fVPT 1L, fVPT 2L</title>
<circle cx="1508" cy="156.5" r="4.1" fill="#FF0000"/>
<text transform="translate(1527 161.8) scale(1 1.04)" font-size="20.2">N−body</text>
<path d="M1500.3 211.3 H1558.4" stroke="#5E81B5" stroke-width="2.8" stroke-dasharray="1.8 6.2" fill="none"/>
<text transform="translate(1574.3 216.9) scale(1 1.04)" font-size="20.2">VPT lin</text>
<rect x="1499.4" y="257" width="17.4" height="16.8" fill="#5E81B5"/>
<text transform="translate(1528 271.4) scale(1 1.04)" font-size="20.2">VPT 1L</text>
<circle cx="1508" cy="320.4" r="8" fill="#5E81B5"/>
<text transform="translate(1528 326.4) scale(1 1.04)" font-size="20.2">VPT 2L</text>
<path d="M1500.3 375.2 H1558.4" stroke="#E19C24" stroke-width="2.6" stroke-dasharray="6.6 6.25" fill="none"/>
<text transform="translate(1574 380.9) scale(1 1.04)" font-size="20.2">fVPT 1L</text>
<path d="M1499.8 429.9 H1531.7" stroke="#E19C24" stroke-width="2.6" fill="none"/>
<text transform="translate(1542.6 436) scale(1 1.04)" font-size="20.2">fVPT 2L</text>
</g>
</svg>
</body>
</html>
